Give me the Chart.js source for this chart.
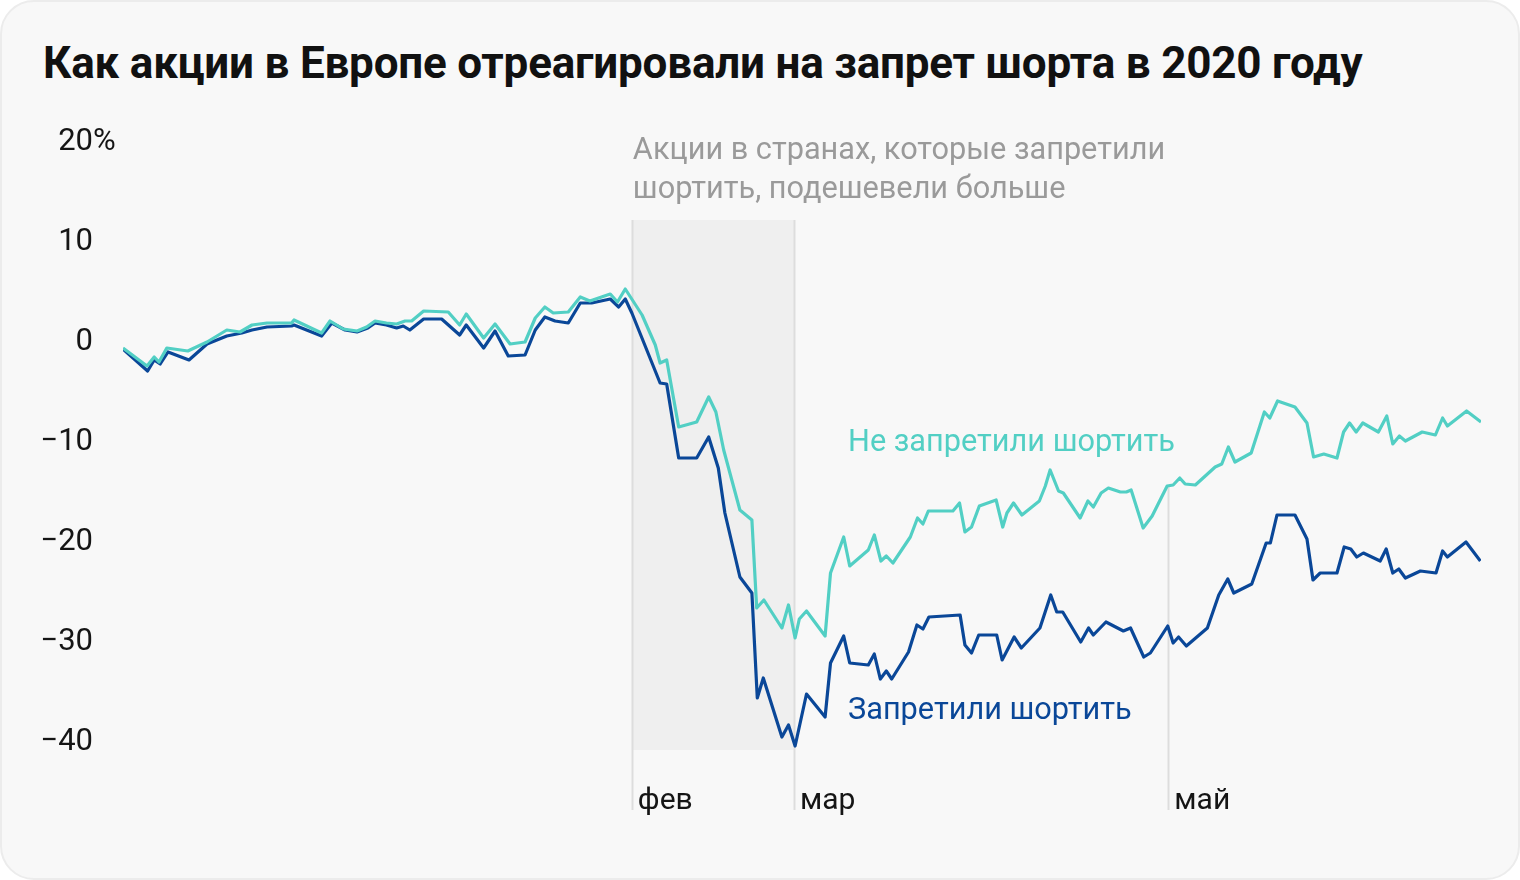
<!DOCTYPE html>
<html lang="ru">
<head>
<meta charset="utf-8">
<script src="https://cdn.jsdelivr.net/npm/chart.js@4/dist/chart.umd.min.js"></script>
<style>
  html, body { margin: 0; padding: 0; background: #ffffff; }
  #card {
    position: absolute; left: 0; top: 0; width: 1516px; height: 876px;
    background: #f8f8f8; border: 2px solid #ececec; border-radius: 34px; overflow: hidden;
  }
  #title {
    position: absolute; left: 41px; top: 35px; margin: 0;
    font-family: Roboto, "Noto Sans", sans-serif; font-weight: 700; font-size: 44px;
    line-height: 52px; color: #111111; letter-spacing: -0.2px; white-space: nowrap;
  }
  #wrap { position: absolute; left: -2px; top: -2px; width: 1520px; height: 880px; }
</style>
</head>
<body>
<div id="card">
  <h1 id="title">Как акции в Европе отреагировали на запрет шорта в 2020 году</h1>
  <div id="wrap"><canvas id="chart" width="1520" height="880"></canvas></div>
</div>
<script>
// Ось X: дни от начала ряда; ось Y: изменение, %
const yTicks = [20, 10, 0, -10, -20, -30, -40];
const monthLabels = ['фев', 'мар', 'май'];
const monthDays = [84.8, 111.8, 174.2];

// Страны, которые не запретили шортить
const notBannedDays = [0, 4, 5.2, 6, 7.3, 10.8, 14, 17.3, 19.5, 21.5, 24, 28.1, 28.5, 33.1, 34.5, 36.7, 39, 40.6, 42, 43.9,
  45.6, 47, 48.1, 50.1, 54.2, 56.1, 57.2, 60.1, 62, 64.5, 67, 68.7, 70.3, 71.7, 74.2, 76.2, 77.8, 81.2, 82.4, 83.7,
  86.5, 88.7, 89.5, 90.6, 92.6, 95.6, 97.6, 98.8, 100.1, 102.8, 104.8, 105.6, 106.8, 109.8, 110.9, 112, 112.7, 113.9, 117, 117.9,
  120.1, 121.1, 124.2, 125.2, 126.3, 127.2, 128.3, 131.2, 132.4, 133.3, 134.2, 138.3, 139.4, 140.3, 141.4, 142.7, 145.5, 146.6, 147.3, 148.4,
  149.8, 152.7, 153.7, 154.5, 155.9, 156.7, 159.5, 160.8, 161.7, 163, 164.2, 166.2, 167.2, 168, 170, 171.5, 174, 175, 176.1, 177,
  178.7, 182, 183.1, 184.2, 185.3, 188, 190.2, 191.1, 192.4, 195.3, 197.3, 198.4, 200.1, 202.3, 203.4, 204.4, 205.5, 206.6, 209.2, 210.6,
  211.6, 212.7, 213.7, 216.5, 218.7, 219.9, 220.7, 223.9, 226.3];
const notBannedValues = [-0.8, -2.6, -1.7, -2.2, -0.8, -1.1, -0.2, 1.0, 0.8, 1.5, 1.7, 1.7, 2.0, 0.7, 1.9, 1.1, 0.9, 1.3, 1.9, 1.7,
  1.6, 1.9, 1.9, 2.9, 2.8, 1.5, 2.6, 0.2, 1.6, -0.4, -0.2, 2.2, 3.3, 2.7, 2.8, 4.3, 3.9, 4.6, 3.8, 5.1,
  2.5, -0.5, -2.3, -2.0, -8.7, -8.2, -5.7, -7.2, -11.0, -17.0, -18.0, -26.8, -26.0, -28.8, -26.5, -29.8, -27.9, -27.1, -29.6, -23.3,
  -19.7, -22.6, -21.0, -19.5, -22.1, -21.6, -22.3, -19.7, -17.8, -18.4, -17.1, -17.1, -16.3, -19.2, -18.7, -16.6, -16.0, -18.7, -17.3, -16.3,
  -17.5, -16.1, -14.6, -13.0, -15.1, -15.3, -17.8, -16.1, -16.7, -15.3, -14.8, -15.2, -15.2, -15.0, -18.8, -17.6, -14.6, -14.5, -13.8, -14.4,
  -14.5, -12.7, -12.4, -10.7, -12.2, -11.3, -7.2, -7.8, -6.1, -6.7, -8.3, -11.7, -11.4, -11.8, -9.2, -8.3, -9.2, -8.3, -9.2, -7.6,
  -10.4, -9.6, -10.1, -9.2, -9.5, -7.8, -8.6, -7.1, -8.2];

// Страны, которые запретили шортить
const bannedDays = [0, 4.1, 5.2, 6.2, 7.5, 11, 14, 17.3, 19.8, 21.5, 24, 28.1, 28.5, 33.1, 34.8, 37, 39, 40.8, 42, 43.9,
  45.6, 46.7, 47.8, 50.1, 53.1, 56.1, 57.2, 60.1, 62, 64.2, 67, 68.7, 70.3, 72, 74.2, 76.2, 78.1, 81.2, 82.6, 83.7,
  84.8, 89.5, 90.6, 92.6, 95.6, 97.6, 99.2, 100.3, 102.8, 104.8, 105.7, 106.7, 109.8, 110.9, 112, 113.9, 117, 117.9, 120.1, 121.1,
  124.2, 125.2, 126.2, 127.2, 128.1, 130.9, 132.3, 133.3, 134.3, 139.5, 140.3, 141.4, 142.6, 145.6, 146.5, 148.5, 149.7, 152.8, 154.6, 155.6,
  156.6, 159.6, 160.9, 161.7, 163.8, 166.7, 167.9, 170.1, 171.2, 174.1, 175, 175.9, 177.2, 180.7, 182.6, 184.1, 185.1, 188.1, 190.5, 191.2,
  192.3, 195.3, 197.3, 198.3, 199.5, 202.3, 203.5, 204.6, 205.6, 206.7, 209.5, 210.5, 211.6, 212.6, 213.7, 216.2, 218.8, 219.9, 220.7, 223.8,
  226.2];
const bannedValues = [-0.9, -3.1, -2.0, -2.4, -1.2, -2.0, -0.4, 0.4, 0.7, 1.0, 1.3, 1.4, 1.5, 0.4, 1.7, 1.0, 0.8, 1.2, 1.7, 1.5,
  1.2, 1.4, 1.0, 2.1, 2.1, 0.5, 1.5, -0.8, 0.9, -1.6, -1.5, 1.0, 2.3, 1.9, 1.7, 3.7, 3.7, 4.1, 3.3, 4.1,
  2.7, -4.3, -4.4, -11.8, -11.8, -9.7, -12.8, -17.3, -23.7, -25.3, -35.8, -33.8, -39.7, -38.5, -40.6, -35.4, -37.7, -32.3, -29.6, -32.3,
  -32.5, -31.4, -33.9, -33.1, -33.9, -31.2, -28.5, -28.9, -27.7, -27.5, -30.5, -31.3, -29.5, -29.5, -32.0, -29.7, -30.8, -28.8, -25.5, -27.2,
  -27.2, -30.2, -28.8, -29.5, -28.2, -29.1, -28.8, -31.7, -31.3, -28.6, -30.3, -29.7, -30.6, -28.8, -25.5, -23.9, -25.3, -24.4, -20.3, -20.3,
  -17.5, -17.5, -19.9, -24.0, -23.3, -23.3, -20.7, -20.9, -21.7, -21.3, -22.1, -20.9, -23.3, -22.9, -23.8, -23.1, -23.3, -21.1, -21.7, -20.2,
  -22.1];

const tealColor = '#52cfc4';
const blueColor = '#0a4798';
const fontFamily = 'Roboto, "Noto Sans", sans-serif';

function toPoints(days, values) {
  return days.map((d, i) => ({ x: d, y: values[i] }));
}

// Серая зона, вертикальные линии, подписи осей и комментарии
const decorPlugin = {
  id: 'decor',
  beforeDatasetsDraw(chart) {
    const ctx = chart.ctx;
    const xs = chart.scales.x;
    const ys = chart.scales.y;
    ctx.save();
    // зона между февралём и мартом
    ctx.fillStyle = '#efefef';
    const x1 = xs.getPixelForValue(monthDays[0]);
    const x2 = xs.getPixelForValue(monthDays[1]);
    ctx.fillRect(x1, ys.getPixelForValue(12), x2 - x1, ys.getPixelForValue(-41) - ys.getPixelForValue(12));
    // вертикальные линии месяцев
    ctx.strokeStyle = '#dddddd';
    ctx.lineWidth = 2;
    const lineTops = [12, 12, -14.6];
    monthDays.forEach((d, i) => {
      const x = Math.round(xs.getPixelForValue(d)) + 0.5;
      ctx.beginPath();
      ctx.moveTo(x, ys.getPixelForValue(lineTops[i]));
      ctx.lineTo(x, ys.getPixelForValue(ys.min));
      ctx.stroke();
    });
    ctx.restore();
  },
  afterDraw(chart) {
    const ctx = chart.ctx;
    const xs = chart.scales.x;
    const ys = chart.scales.y;
    ctx.save();
    ctx.font = '400 31px ' + fontFamily;
    ctx.fillStyle = '#151515';
    ctx.textBaseline = 'middle';
    // подписи оси Y
    yTicks.forEach(v => {
      const y = ys.getPixelForValue(v) + 2;
      const txt = v < 0 ? '\u2212' + Math.abs(v) : String(v);
      ctx.textAlign = 'right';
      ctx.fillText(txt, 93, y);
      if (v === 20) {
        ctx.textAlign = 'left';
        ctx.fillText('%', 93, y);
      }
    });
    // подписи месяцев
    ctx.textAlign = 'left';
    ctx.font = '400 30px ' + fontFamily;
    monthLabels.forEach((m, i) => {
      ctx.fillText(m, xs.getPixelForValue(monthDays[i]) + 6, 801);
    });
    // комментарий
    ctx.font = '400 30.7px ' + fontFamily;
    ctx.fillStyle = '#9a9a9a';
    const ax = xs.getPixelForValue(monthDays[0]) + 1;
    ctx.fillText('Акции в странах, которые запретили', ax, 151);
    ctx.fillText('шортить, подешевели больше', ax, 190);
    // подписи линий
    ctx.fillStyle = tealColor;
    ctx.fillText('Не запретили шортить', 848, 443);
    ctx.fillStyle = blueColor;
    ctx.fillText('Запретили шортить', 848, 711);
    ctx.restore();
  }
};

new Chart(document.getElementById('chart'), {
  type: 'line',
  data: {
    datasets: [
      {
        label: 'Не запретили шортить',
        data: toPoints(notBannedDays, notBannedValues),
        borderColor: tealColor,
        borderWidth: 3.2,
        pointRadius: 0,
        tension: 0,
        borderJoinStyle: 'round'
      },
      {
        label: 'Запретили шортить',
        data: toPoints(bannedDays, bannedValues),
        borderColor: blueColor,
        borderWidth: 3.2,
        pointRadius: 0,
        tension: 0,
        borderJoinStyle: 'round'
      }
    ]
  },
  options: {
    responsive: false,
    animation: false,
    events: [],
    layout: { padding: { left: 123, right: 39, top: 140, bottom: 70 } },
    scales: {
      x: { type: 'linear', min: 0, max: 226.3, display: false },
      y: { type: 'linear', min: -47, max: 20, display: false }
    },
    plugins: {
      legend: { display: false },
      tooltip: { enabled: false }
    }
  },
  plugins: [decorPlugin]
});
</script>
</body>
</html>
